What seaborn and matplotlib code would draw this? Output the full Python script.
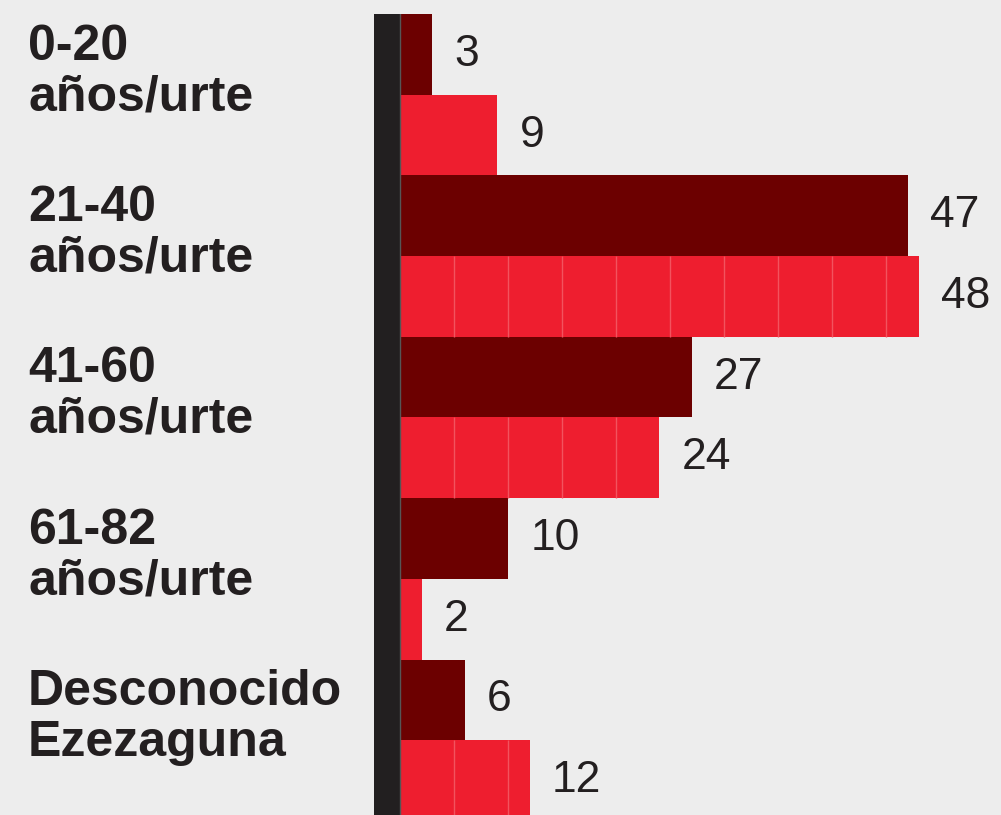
import matplotlib
matplotlib.use("Agg")
import matplotlib.pyplot as plt
import matplotlib.transforms as mtransforms
import pandas as pd
import seaborn as sns

# ---- data ----
groups = ["0-20\naños/urte", "21-40\naños/urte", "41-60\naños/urte",
          "61-82\naños/urte", "Desconocido\nEzezaguna"]
dark_values = [3, 47, 27, 10, 6]
bright_values = [9, 48, 24, 2, 12]
series_names = ["Serie 1", "Serie 2"]

# ---- style ----
BG = "#EDEDED"
DARK = "#6C0000"
BRIGHT = "#EE1E2F"
INK = "#231F20"
plt.rcParams["font.family"] = ["Liberation Sans", "DejaVu Sans"]

rows = []
for i, g in enumerate(groups):
    rows.append({"row": f"{i}a", "group": g, "serie": series_names[0], "value": dark_values[i]})
    rows.append({"row": f"{i}b", "group": g, "serie": series_names[1], "value": bright_values[i]})
df = pd.DataFrame(rows)

W, H = 1001, 815
fig = plt.figure(figsize=(W / 100, H / 100), dpi=100, facecolor=BG)
ax = fig.add_axes([374 / W, 0, (W - 374) / W, 801 / H])
ax.set_facecolor(BG)

sns.barplot(data=df, y="row", x="value", hue="serie", palette=[DARK, BRIGHT],
            dodge=False, width=1.0, orient="h", ax=ax, legend=False,
            saturation=1, linewidth=0, errorbar=None)

px_unit = 10.81
ax.set_xlim(-26 / px_unit, (W - 400) / px_unit)
ax.set_ylim(-0.5 + 801 / 80.7, -0.5)

# dark vertical bar at the base
ax.axvspan(-26 / px_unit, 0, color="#221F20", zorder=3, linewidth=0)
ax.axvline(0, color="#555555", lw=1, zorder=4)

# faint segment lines on bright bars
for bar, v in zip(ax.containers[1], bright_values):
    if v > 10:
        y0 = bar.get_y()
        ax.vlines(list(range(5, v, 5)), y0, y0 + bar.get_height(),
                  color="#F2535E", lw=1, zorder=3)

# value labels
for cont, vals in zip(ax.containers, [dark_values, bright_values]):
    ax.bar_label(cont, labels=[str(v) for v in vals], padding=16,
                 fontsize=32, color=INK)

# group labels
trans = mtransforms.blended_transform_factory(fig.transFigure, ax.transData)
for i, g in enumerate(groups):
    ax.text(28 / W, 2 * i - 0.5 + 0.12, g, transform=trans, ha="left", va="top",
            fontsize=36, fontweight="bold", color=INK, linespacing=1.12)

ax.set_axis_off()
fig.savefig("out.png", dpi=100, facecolor=BG)
